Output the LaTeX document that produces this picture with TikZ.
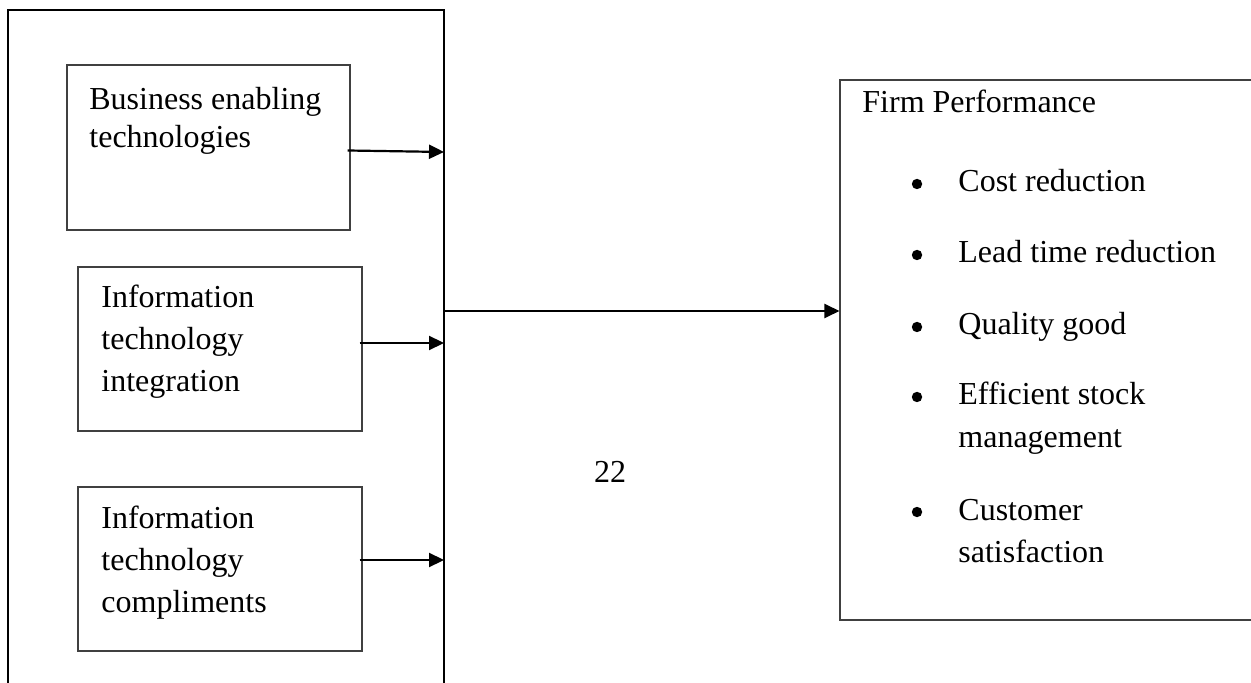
\documentclass[tikz,border=0pt]{standalone}
\usepackage{fontspec}
\setmainfont{Liberation Serif}
\usetikzlibrary{arrows.meta,fit}
\begin{document}
\begin{tikzpicture}[x=0.5pt,y=-0.5pt,
  box/.style={draw=black!75, line width=0.55pt, inner sep=0pt, rectangle},
  txt/.style={font=\fontsize{16pt}{21pt}\selectfont, inner sep=0pt, align=left},
  arr/.style={line width=1.1pt, -{Triangle[length=7.5pt,width=7pt]}}]
\useasboundingbox (0,0) rectangle (1251,683);
% outer container (open at bottom)
\draw[line width=0.75pt] (8,700) -- (8,10) -- (444,10) -- (444,700);
\coordinate (o1) at (444,152);
\coordinate (o2) at (444,343);
\coordinate (o3) at (444,560);
\coordinate (om) at (444,311);
% inner boxes
\node[box, fit={(67,65) (350,230)}] (b1) {};
\node[box, fit={(78,267) (362,431)}] (b2) {};
\node[box, fit={(78,487) (362,651)}] (b3) {};
\node[txt, font=\fontsize{16pt}{19pt}\selectfont, anchor=base west] (t1) at (89,148) {Business enabling\\technologies};
\node[txt, anchor=base west] (t2) at (101,392) {Information\\technology\\integration};
\node[txt, anchor=base west] (t3) at (101,612) {Information\\technology\\compliments};
% right box (extends past right edge)
\node[box, fit={(840,80) (1262,620)}] (fp) {};
\node[txt, anchor=base west] (fpt) at (862,113) {Firm Performance};
\foreach \n/\y/\b/\t in {c1/192/192/{Cost reduction}, c2/263/263/{Lead time reduction}, c3/335/335/{Quality good}, c4/405/447/{Efficient stock\\management}, c5/520/562/{Customer\\satisfaction}}{
  \node[txt, anchor=base west] (\n) at (958,\b) {\t};
  \fill (917,\y-8) circle (5.2);
}
\node[txt, anchor=base] (pg) at (610,482) {22};
% arrows
\draw[arr] ([shift={(-3,3)}]b1.east) -- (o1);
\draw[arr] ([shift={(-3,-6)}]b2.east) -- (o2);
\draw[arr] ([shift={(-3,-9)}]b3.east) -- (o3);
\draw[arr] (om) -- (fp.west |- om);
\end{tikzpicture}
\end{document}
